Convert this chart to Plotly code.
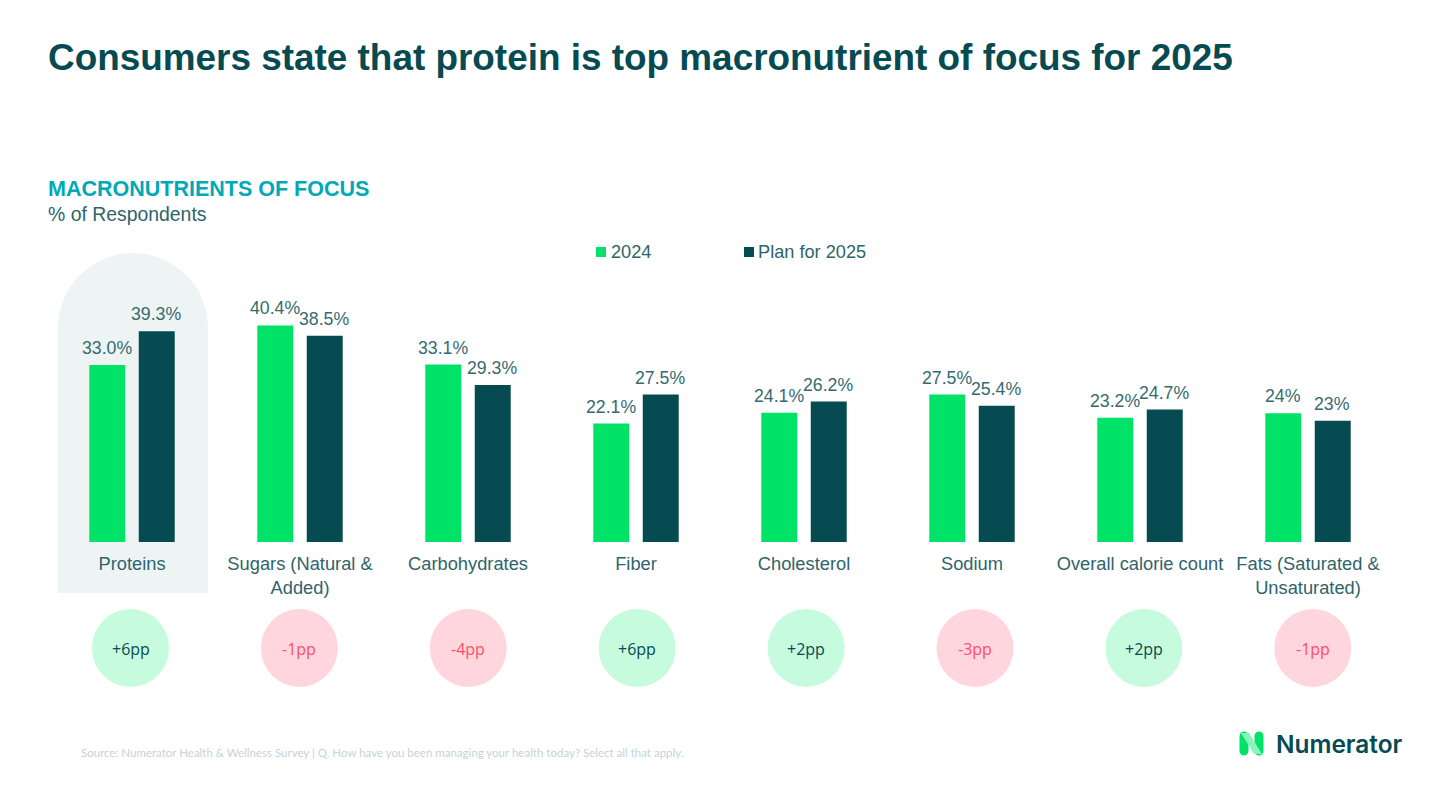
import plotly.graph_objects as go

W = 1445
H = 787

categories = ["Proteins", "Sugars (Natural &<br>Added)", "Carbohydrates", "Fiber", "Cholesterol",
              "Sodium", "Overall calorie count", "Fats (Saturated &<br>Unsaturated)"]
values_2024 = [33.0, 40.4, 33.1, 22.1, 24.1, 27.5, 23.2, 24]
values_2025 = [39.3, 38.5, 29.3, 27.5, 26.2, 25.4, 24.7, 22.6]
labels_2024 = ["33.0%", "40.4%", "33.1%", "22.1%", "24.1%", "27.5%", "23.2%", "24%"]
labels_2025 = ["39.3%", "38.5%", "29.3%", "27.5%", "26.2%", "25.4%", "24.7%", "23%"]
changes = ["+6pp", "-1pp", "-4pp", "+6pp", "+2pp", "-3pp", "+2pp", "-1pp"]

GREEN = "#00E268"
DARK = "#064A52"
TEXT = "#2F646B"
FONT = "Liberation Sans"

# plot area in pixels
LEFT, RIGHT, TOP, BOTTOM = 48, 1392, 274, 542


def px(x):
    return (x - LEFT) / (RIGHT - LEFT)


def py(y):
    return (BOTTOM - y) / (BOTTOM - TOP)


def label(x, y, text, size, color, anchor="left", family=FONT, weight=None):
    fig.add_annotation(xref="paper", yref="paper", x=px(x), y=py(y), text=text, showarrow=False,
                       xanchor=anchor, yanchor="middle", borderpad=0, borderwidth=0,
                       font=dict(size=size, color=color, family=family, weight=weight))


def path_shape(points, color, layer="below"):
    # points is a list of (command, x, y, ...) in pixels
    d = ""
    for p in points:
        d += p[0]
        d += " ".join(f"{px(p[i])},{py(p[i + 1])}" for i in range(1, len(p), 2))
    d += "Z"
    fig.add_shape(type="path", xref="paper", yref="paper", path=d, fillcolor=color, line_width=0, layer=layer)


def round_bar(x0, x1, y0, y1, color):
    r = (x1 - x0) / 2
    k = r * 0.55
    path_shape([("M", x0, y0 + r),
                ("C", x0, y0 + r - k, x0 + r - k, y0, x0 + r, y0),
                ("C", x0 + r + k, y0, x1, y0 + r - k, x1, y0 + r),
                ("L", x1, y1 - r),
                ("C", x1, y1 - r + k, x0 + r + k, y1, x0 + r, y1),
                ("C", x0 + r - k, y1, x0, y1 - r + k, x0, y1 - r)], color, "above")


fig = go.Figure()
fig.add_bar(name="2024", x=categories, y=values_2024, marker_color=GREEN, marker_line_width=0)
fig.add_bar(name="Plan for 2025", x=categories, y=values_2025, marker_color=DARK, marker_line_width=0)

fig.update_layout(width=W, height=H, margin=dict(l=LEFT, r=W - RIGHT, t=TOP, b=H - BOTTOM),
                  paper_bgcolor="white", plot_bgcolor="rgba(0,0,0,0)", showlegend=False,
                  barmode="group", bargap=0.411, bargroupgap=0.273,
                  font=dict(family=FONT, color=TEXT))
fig.update_xaxes(tickangle=0, showgrid=False, showline=False, ticks="", ticklabelstandoff=9,
                 tickfont=dict(size=18.3, color=TEXT, family=FONT))
fig.update_yaxes(range=[0, 50], visible=False)

# value labels sit a little higher above the bars than textposition outside allows
for cat, v24, v25, t24, t25 in zip(categories, values_2024, values_2025, labels_2024, labels_2025):
    fig.add_annotation(x=cat, y=v24, text=t24, showarrow=False, xshift=-25.5, yshift=5, yanchor="bottom",
                       font=dict(size=17.7, color="#356A71", family=FONT))
    fig.add_annotation(x=cat, y=v25, text=t25, showarrow=False, xshift=24, yshift=5, yanchor="bottom",
                       font=dict(size=17.7, color="#356A71", family=FONT))

# highlight panel behind Proteins
k = 75 * 0.55
path_shape([("M", 58, 593), ("L", 58, 328),
            ("C", 58, 328 - k, 133 - k, 253, 133, 253),
            ("C", 133 + k, 253, 208, 328 - k, 208, 328),
            ("L", 208, 593)], "#EEF4F4")

# change bubbles
for i, c in enumerate(changes):
    cx = 130.5 + 168.9 * i
    up = c.startswith("+")
    fig.add_shape(type="circle", xref="paper", yref="paper", x0=px(cx - 38.5), x1=px(cx + 38.5),
                  y0=py(687), y1=py(609), fillcolor="#C6FBDD" if up else "#FFD6DE", line_width=0)
    label(cx, 649, c, 16, DARK if up else "#FF4D6A", "center", "Open Sans")

# titles
label(48, 58, "Consumers state that protein is top macronutrient of focus for 2025", 36.9, DARK, weight="bold")
label(48, 189, "MACRONUTRIENTS OF FOCUS", 21.5, "#00A9B8", weight="bold")
label(48, 214, "% of Respondents", 19.4, TEXT)

# legend
fig.add_shape(type="rect", xref="paper", yref="paper", x0=px(596), x1=px(606), y0=py(257), y1=py(247),
              fillcolor=GREEN, line_width=0)
label(611, 252, "2024", 18.2, TEXT)
fig.add_shape(type="rect", xref="paper", yref="paper", x0=px(744), x1=px(754), y0=py(257), y1=py(247),
              fillcolor=DARK, line_width=0)
label(758, 252, "Plan for 2025", 18.2, TEXT)

# source
label(81, 752, "Source: Numerator Health &amp; Wellness Survey | Q. How have you been managing your health today? Select all that apply.",
      11.5, "#C5D3D7", family="Lato")

# logo
round_bar(1239.5, 1248.5, 731.5, 755.5, GREEN)
round_bar(1254.5, 1263.5, 731.5, 755.5, GREEN)
path_shape([("M", 1241, 733), ("L", 1249, 733), ("L", 1262, 754), ("L", 1254, 754)], "#8CF3BC", "above")
label(1276, 744, "Numerator", 24.4, DARK, family="Inter", weight=600)

fig.write_html("out.html", config=dict(displayModeBar=False), post_script="document.body.style.margin='0';")
